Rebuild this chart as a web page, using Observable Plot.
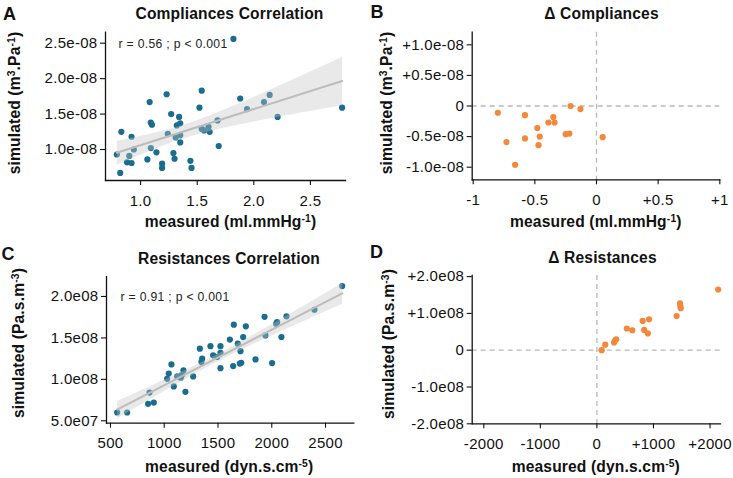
<!DOCTYPE html>
<html>
<head>
<meta charset="utf-8">
<script src="https://cdn.jsdelivr.net/npm/d3@7"></script>
<script src="https://cdn.jsdelivr.net/npm/@observablehq/plot@0.6"></script>
<style>
  body { margin: 0; background: #fff; }
  #wrap { position: relative; width: 733px; height: 478px; overflow: hidden; font-family: "Liberation Sans", Arial, Helvetica, sans-serif; color: #111; }
  .panel { position: absolute; }
  .panel svg { display: block; overflow: visible; }
  .panel svg text { letter-spacing: 0.3px; }
  .lbl { position: absolute; white-space: nowrap; font-weight: bold; font-size: 15.6px; letter-spacing: 0.15px; line-height: 1; transform: translate(-50%, -50%); }
  .ylbl { transform: translate(-50%, -50%) rotate(-90deg); }
  .letter { position: absolute; font-weight: bold; font-size: 18px; line-height: 1; transform: translate(0, -50%); }
  sup { font-size: 0.66em; vertical-align: 0.5em; line-height: 0; }
</style>
</head>
<body>
<div id="wrap"></div>
<script>
// ---------- Panel A: Compliances correlation ----------
const compMeasured = [1.82, 0.79, 0.83, 0.82, 0.88, 0.92, 0.90, 0.92, 0.94, 1.06, 1.08, 1.09, 1.10, 1.09, 1.14, 1.19, 1.19, 1.23, 1.24, 1.27, 1.29, 1.30, 1.31, 1.32, 1.34, 1.35, 1.35, 1.35, 1.44, 1.45, 1.52, 1.54, 1.54, 1.56, 1.60, 1.61, 1.68, 1.69, 1.88, 1.94, 2.09, 2.14, 2.21, 2.78];
const compSimulated = [2.56e-8, 0.93e-8, 1.25e-8, 0.67e-8, 0.82e-8, 0.81e-8, 0.91e-8, 1.18e-8, 1.00e-8, 0.86e-8, 1.67e-8, 1.38e-8, 1.35e-8, 1.02e-8, 0.96e-8, 0.80e-8, 0.74e-8, 1.78e-8, 1.22e-8, 1.50e-8, 0.95e-8, 0.87e-8, 1.17e-8, 1.34e-8, 1.46e-8, 1.37e-8, 1.10e-8, 1.20e-8, 0.84e-8, 0.74e-8, 1.59e-8, 1.83e-8, 1.29e-8, 1.27e-8, 1.32e-8, 1.25e-8, 1.41e-8, 1.05e-8, 1.72e-8, 1.57e-8, 1.67e-8, 1.77e-8, 1.46e-8, 1.59e-8];
const aXTicks = [1.0, 1.5, 2.0, 2.5];
const aXTickLabels = ["1.0", "1.5", "2.0", "2.5"];
const aYTicks = [1.0e-8, 1.5e-8, 2.0e-8, 2.5e-8];
const aYTickLabels = ["1.0e-08", "1.5e-08", "2.0e-08", "2.5e-08"];
const aDomainX = [0.69, 2.81];
const aDomainY = [0.563e-8, 2.655e-8];
const aAnnot = "r = 0.56 ; p < 0.001";

// ---------- Panel B: Delta compliances ----------
const dCompMeasured = [-0.80, -0.73, -0.66, -0.58, -0.58, -0.48, -0.46, -0.47, -0.39, -0.35, -0.34, -0.25, -0.22, -0.21, -0.13, 0.05];
const dCompSimulated = [-0.11e-8, -0.59e-8, -0.96e-8, -0.15e-8, -0.53e-8, -0.36e-8, -0.50e-8, -0.64e-8, -0.27e-8, -0.18e-8, -0.27e-8, -0.46e-8, -0.45e-8, 0.0, -0.05e-8, -0.51e-8];
const bXTicks = [-1, -0.5, 0, 0.5, 1];
const bXTickLabels = ["-1", "-0.5", "0", "+0.5", "+1"];
const bYTicks = [-1.0e-8, -0.5e-8, 0, 0.5e-8, 1.0e-8];
const bYTickLabels = ["-1.0e-08", "-0.5e-08", "0", "+0.5e-08", "+1.0e-08"];
const bDomainX = [-1.008, 1.0];
const bDomainY = [-1.206e-8, 1.206e-8];

// ---------- Panel C: Resistances correlation ----------
const resMeasured = [562, 655, 850, 903, 863, 1027, 1042, 1067, 1089, 1120, 1154, 1179, 1163, 1197, 1269, 1331, 1353, 1346, 1430, 1455, 1523, 1523, 1523, 1492, 1610, 1647, 1641, 1684, 1709, 1703, 1716, 1734, 1759, 1849, 1933, 1941, 2003, 2041, 2050, 2090, 2137, 2397, 2655];
const resSimulated = [0.60e8, 0.60e8, 0.705e8, 0.72e8, 0.84e8, 1.007e8, 1.07e8, 1.18e8, 0.915e8, 1.035e8, 1.02e8, 1.11e8, 1.05e8, 0.85e8, 1.035e8, 1.37e8, 1.25e8, 1.21e8, 1.40e8, 1.29e8, 1.40e8, 1.32e8, 1.135e8, 1.27e8, 1.48e8, 1.66e8, 1.16e8, 1.43e8, 1.34e8, 1.19e8, 1.20e8, 1.51e8, 1.64e8, 1.24e8, 1.755e8, 1.53e8, 1.196e8, 1.67e8, 1.69e8, 1.51e8, 1.76e8, 1.84e8, 2.125e8];
const cXTicks = [500, 1000, 1500, 2000, 2500];
const cXTickLabels = ["500", "1000", "1500", "2000", "2500"];
const cYTicks = [0.5e8, 1.0e8, 1.5e8, 2.0e8];
const cYTickLabels = ["5.0e07", "1.0e08", "1.5e08", "2.0e08"];
const cDomainX = [463, 2763];
const cDomainY = [0.471e8, 2.241e8];
const cAnnot = "r = 0.91 ; p < 0.001";

// ---------- Panel D: Delta resistances ----------
const dResMeasured = [85, 147, 303, 324, 341, 529, 626, 809, 835, 900, 921, 1409, 1470, 1476, 1482, 2144];
const dResSimulated = [0.0, 0.15e8, 0.21e8, 0.27e8, 0.295e8, 0.59e8, 0.54e8, 0.795e8, 0.55e8, 0.455e8, 0.838e8, 0.93e8, 1.27e8, 1.20e8, 1.14e8, 1.65e8];
const dXTicks = [-2000, -1000, 0, 1000, 2000];
const dXTickLabels = ["-2000", "-1000", "0", "+1000", "+2000"];
const dYTicks = [-2.0e8, -1.0e8, 0, 1.0e8, 2.0e8];
const dYTickLabels = ["-2.0e08", "-1.0e08", "0", "+1.0e08", "+2.0e08"];
const dDomainX = [-2205, 2185];
const dDomainY = [-2.0e8, 2.03e8];

const teal = "#1a6d8e";
const orange = "#f4883a";

function fmtMap(ticks, labels) {
  const m = new Map(ticks.map((t, i) => [t, labels[i]]));
  return d => m.get(d);
}

const wrap = document.getElementById("wrap");

function panel(o) {
  const svg = Plot.plot({
    width: 366, height: 239,
    marginLeft: o.mL, marginRight: o.mR, marginTop: o.mT, marginBottom: o.mB,
    style: { fontFamily: "'Liberation Sans', Arial, Helvetica, sans-serif", fontSize: "15px", color: "#111", background: "transparent", overflow: "visible" },
    x: { domain: o.xDom },
    y: { domain: o.yDom },
    marks: [
      ...o.marks,
      Plot.axisX({ ticks: o.xTicks, tickFormat: fmtMap(o.xTicks, o.xLabels), tickSize: 5, tickPadding: 9.5, label: null, strokeWidth: 1.1 }),
      Plot.axisY({ ticks: o.yTicks, tickFormat: fmtMap(o.yTicks, o.yLabels), tickSize: 5, tickPadding: 3, label: null, strokeWidth: 1.1 }),
      Plot.frame({ anchor: "left", stroke: "#111", strokeWidth: 1.3 }),
      Plot.frame({ anchor: "bottom", stroke: "#111", strokeWidth: 1.3 })
    ]
  });
  const div = document.createElement("div");
  div.className = "panel";
  div.style.left = o.left + "px";
  div.style.top = o.top + "px";
  div.appendChild(svg);
  wrap.appendChild(div);
}

function label(html, x, y, cls) {
  const d = document.createElement("div");
  d.className = cls;
  d.innerHTML = html;
  d.style.left = x + "px";
  d.style.top = y + "px";
  wrap.appendChild(d);
}

const tA = compMeasured.map((x, i) => ({ x, y: compSimulated[i] }));
const tB = dCompMeasured.map((x, i) => ({ x, y: dCompSimulated[i] }));
const tC = resMeasured.map((x, i) => ({ x, y: resSimulated[i] }));
const tD = dResMeasured.map((x, i) => ({ x, y: dResSimulated[i] }));

const dash = { stroke: "#b8b8b8", strokeWidth: 1.3, strokeDasharray: "5,4" };

panel({
  left: 0, top: 0, mL: 105, mR: 21, mT: 31.7, mB: 59,
  xDom: aDomainX, yDom: aDomainY,
  xTicks: aXTicks, xLabels: aXTickLabels, yTicks: aYTicks, yLabels: aYTickLabels,
  marks: [
    Plot.dot(tA, { x: "x", y: "y", r: 3.1, fill: teal, stroke: "none" }),
    Plot.linearRegressionY(tA, { x: "x", y: "y", stroke: "#bcbcbc", strokeWidth: 2, fill: "#c4c4c4", fillOpacity: 0.38 }),
    Plot.text([aAnnot], { text: d => d, frameAnchor: "top-left", dx: 13, dy: 11.6, textAnchor: "start", lineAnchor: "middle", fontSize: 12.2, fill: "#222" })
  ]
});

panel({
  left: 366, top: 0, mL: 105.7, mR: 12.7, mT: 31.7, mB: 59.7,
  xDom: bDomainX, yDom: bDomainY,
  xTicks: bXTicks, xLabels: bXTickLabels, yTicks: bYTicks, yLabels: bYTickLabels,
  marks: [
    Plot.ruleY([0], dash),
    Plot.ruleX([0], dash),
    Plot.dot(tB, { x: "x", y: "y", r: 3.1, fill: orange, stroke: "none" })
  ]
});

panel({
  left: 0, top: 239, mL: 106, mR: 12.7, mT: 37, mB: 55.3,
  xDom: cDomainX, yDom: cDomainY,
  xTicks: cXTicks, xLabels: cXTickLabels, yTicks: cYTicks, yLabels: cYTickLabels,
  marks: [
    Plot.dot(tC, { x: "x", y: "y", r: 3.1, fill: teal, stroke: "none" }),
    Plot.linearRegressionY(tC, { x: "x", y: "y", stroke: "#bcbcbc", strokeWidth: 2, fill: "#c4c4c4", fillOpacity: 0.38 }),
    Plot.text([cAnnot], { text: d => d, frameAnchor: "top-left", dx: 14, dy: 20.7, textAnchor: "start", lineAnchor: "middle", fontSize: 12.2, fill: "#222" })
  ]
});

panel({
  left: 366, top: 239, mL: 105.7, mR: 12, mT: 36, mB: 54.7,
  xDom: dDomainX, yDom: dDomainY,
  xTicks: dXTicks, xLabels: dXTickLabels, yTicks: dYTicks, yLabels: dYTickLabels,
  marks: [
    Plot.ruleY([0], dash),
    Plot.ruleX([0], dash),
    Plot.dot(tD, { x: "x", y: "y", r: 3.1, fill: orange, stroke: "none" })
  ]
});

// Panel letters, titles and axis titles
label("A", 3, 13.5, "letter");
label("B", 370.5, 12, "letter");
label("C", 1.5, 253.5, "letter");
label("D", 370, 252, "letter");

label("Compliances Correlation", 229.5, 13.5, "lbl");
label("Δ Compliances", 601.5, 13.5, "lbl");
label("Resistances Correlation", 229, 259, "lbl");
label("Δ Resistances", 602.5, 258, "lbl");

label("measured (ml.mmHg<sup>-1</sup>)", 230.5, 222, "lbl");
label("measured (ml.mmHg<sup>-1</sup>)", 595.8, 222, "lbl");
label("measured (dyn.s.cm<sup>-5</sup>)", 229.2, 466.5, "lbl");
label("measured (dyn.s.cm<sup>-5</sup>)", 595.8, 466.5, "lbl");

label("simulated (m<sup>3</sup>.Pa<sup>-1</sup>)", 15, 103, "lbl ylbl");
label("simulated (m<sup>3</sup>.Pa<sup>-1</sup>)", 386.5, 103, "lbl ylbl");
label("simulated (Pa.s.m<sup>-3</sup>)", 19, 343, "lbl ylbl");
label("simulated (Pa.s.m<sup>-3</sup>)", 389, 344, "lbl ylbl");
</script>
</body>
</html>
